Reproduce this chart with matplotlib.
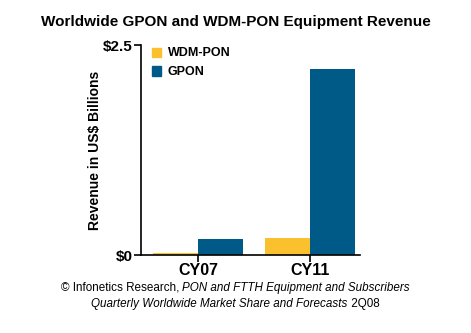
import matplotlib.pyplot as plt
import numpy as np
from matplotlib.patches import Patch

plt.rcParams['font.family'] = ['Liberation Sans', 'DejaVu Sans']

# Data (US$ billions)
years = ['CY07', 'CY11']
wdm_pon = [0.02, 0.20]
gpon = [0.19, 2.21]

yellow = '#FBC02D'
blue = '#005A87'

fig = plt.figure(figsize=(4.71, 3.33), dpi=100)
ax = fig.add_axes([141 / 471, 1 - 255 / 333, 219 / 471, 210 / 333])

x = np.arange(len(years))
w = 0.40
ax.bar(x - w / 2, wdm_pon, w, color=yellow, label='WDM-PON')
ax.bar(x + w / 2, gpon, w, color=blue, label='GPON')

ax.set_xlim(-0.51, 1.446)
ax.set_ylim(0, 2.5)
ax.set_yticks([0, 2.5])
ax.set_yticklabels(['$0', '$2.5'], fontsize=11, fontweight='bold')
ax.set_xticks(x)
ax.set_xticklabels(years, fontsize=11.5, fontweight='bold')
ax.tick_params(axis='both', length=5, width=1.2, color='black', pad=1)
ax.spines['top'].set_visible(False)
ax.spines['right'].set_visible(False)
for s in ['left', 'bottom']:
    ax.spines[s].set_linewidth(1.2)

ax.set_ylabel('Revenue in US$ Billions', fontsize=10, fontweight='bold', labelpad=1)

handles = [Patch(color=yellow), Patch(color=blue)]
leg = ax.legend(handles, ['WDM-PON', 'GPON'], loc='upper left',
                bbox_to_anchor=(0.01, 1.03), frameon=False,
                prop={'weight': 'bold', 'size': 9},
                handlelength=0.75, handleheight=0.75, handletextpad=0.5,
                labelspacing=0.55, borderaxespad=0.3)

fig.text(0.5, 1 - 22 / 333, 'Worldwide GPON and WDM-PON Equipment Revenue',
         ha='center', va='center', fontsize=11, fontweight='bold')

# Footer lines with mixed roman/italic pieces, centered as a whole
renderer = fig.canvas.get_renderer()
lines = [
    (1 - 288 / 333, [('\u00a9 Infonetics Research, ', 'normal'),
                     ('PON and FTTH Equipment and Subscribers', 'italic')]),
    (1 - 304 / 333, [('Quarterly Worldwide Market Share and Forecasts', 'italic'),
                     (' 2Q08', 'normal')]),
]
for ypos, pieces in lines:
    texts = []
    for s, style in pieces:
        t = fig.text(0, ypos, s, ha='left', va='center', fontsize=8.4, fontstyle=style)
        texts.append(t)
    widths = [t.get_window_extent(renderer).width / fig.bbox.width for t in texts]
    xpos = 0.5 - sum(widths) / 2
    for t, wd in zip(texts, widths):
        t.set_x(xpos)
        xpos += wd

fig.savefig('out.png', dpi=100)
